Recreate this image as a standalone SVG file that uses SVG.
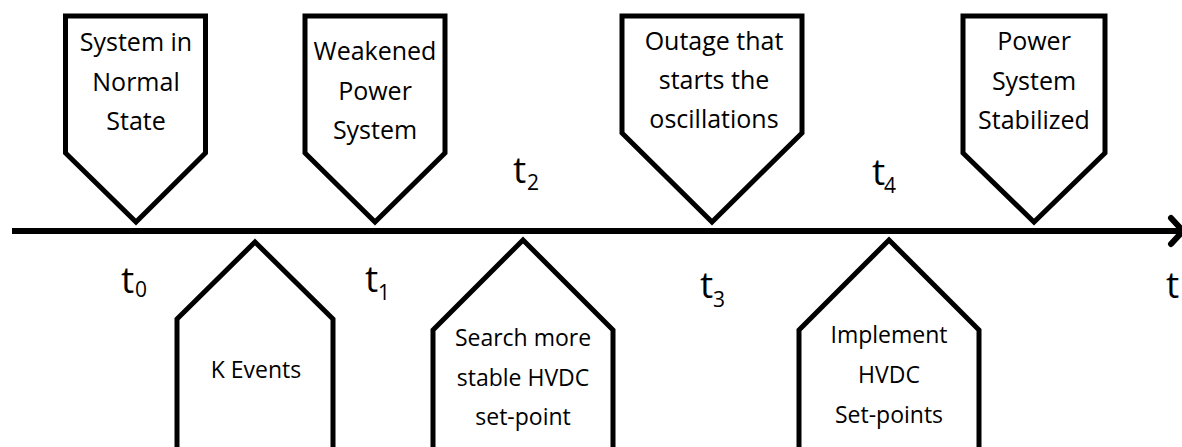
<svg xmlns="http://www.w3.org/2000/svg" width="1182" height="447" viewBox="0 0 1182 447">
<style>
.shape{fill:#fff;stroke:#000;stroke-width:5;stroke-linejoin:miter}
.lbl{font-family:"Open Sans","Liberation Sans",sans-serif;font-size:25px;fill:#000;text-anchor:middle}
.lbl2{font-family:"Open Sans","Liberation Sans",sans-serif;font-size:23px;fill:#000;text-anchor:middle}
.t{font-family:"Open Sans","Liberation Sans",sans-serif;font-size:37px;fill:#000}
.sub{font-family:"Open Sans","Liberation Sans",sans-serif;font-size:21px;fill:#000}
.axis{fill:none;stroke:#000;stroke-width:6}
</style>
<rect width="1182" height="447" fill="#fff"/>
<g id="connectors">
<line class="axis" x1="12" y1="231" x2="1180" y2="231"/>
<polyline class="axis" points="1171,218 1183,231 1171,244" stroke-linecap="round" stroke-linejoin="round"/>
</g>
<g id="node-normal">
<polygon class="shape" points="65.5,16 205.5,16 205.5,153 136,222 65.5,153"/>
<text class="lbl" x="136" y="51">System in</text>
<text class="lbl" x="136" y="91">Normal</text>
<text class="lbl" x="136" y="130">State</text>
</g>
<g id="node-weakened">
<polygon class="shape" points="305,16 445,16 445,153 375,222 305,153"/>
<text class="lbl" x="375" y="60">Weakened</text>
<text class="lbl" x="375" y="100">Power</text>
<text class="lbl" x="375" y="139">System</text>
</g>
<g id="node-outage">
<polygon class="shape" points="622,16 802,16 802,133 712,222 622,133"/>
<text class="lbl" x="714" y="50">Outage that</text>
<text class="lbl" x="714" y="89">starts the</text>
<text class="lbl" x="714" y="128">oscillations</text>
</g>
<g id="node-stabilized">
<polygon class="shape" points="963,16 1105,16 1105,153 1034,222 963,153"/>
<text class="lbl" x="1034" y="50">Power</text>
<text class="lbl" x="1034" y="90">System</text>
<text class="lbl" x="1034" y="129">Stabilized</text>
</g>
<g id="node-kevents">
<polygon class="shape" points="255,242 333,319 333,460 177,460 177,319"/>
<text class="lbl2" x="256" y="378">K Events</text>
</g>
<g id="node-search">
<polygon class="shape" points="523,240 613,330 613,460 433,460 433,330"/>
<text class="lbl2" x="523" y="346">Search more</text>
<text class="lbl2" x="523" y="386">stable HVDC</text>
<text class="lbl2" x="523" y="425">set-point</text>
</g>
<g id="node-implement">
<polygon class="shape" points="889,240 979,330 979,460 799,460 799,330"/>
<text class="lbl2" x="889" y="343">Implement</text>
<text class="lbl2" x="889" y="383">HVDC</text>
<text class="lbl2" x="889" y="423">Set-points</text>
</g>
<g id="time-labels">
<text class="t" x="121" y="293">t</text><text class="sub" x="135" y="297">0</text>
<text class="t" x="365" y="292">t</text><text class="sub" x="378" y="300">1</text>
<text class="t" x="513" y="183">t</text><text class="sub" x="527" y="190">2</text>
<text class="t" x="700" y="298">t</text><text class="sub" x="713" y="307">3</text>
<text class="t" x="872" y="185">t</text><text class="sub" x="884" y="193">4</text>
<text class="t" x="1166" y="298">t</text>
</g>
</svg>
